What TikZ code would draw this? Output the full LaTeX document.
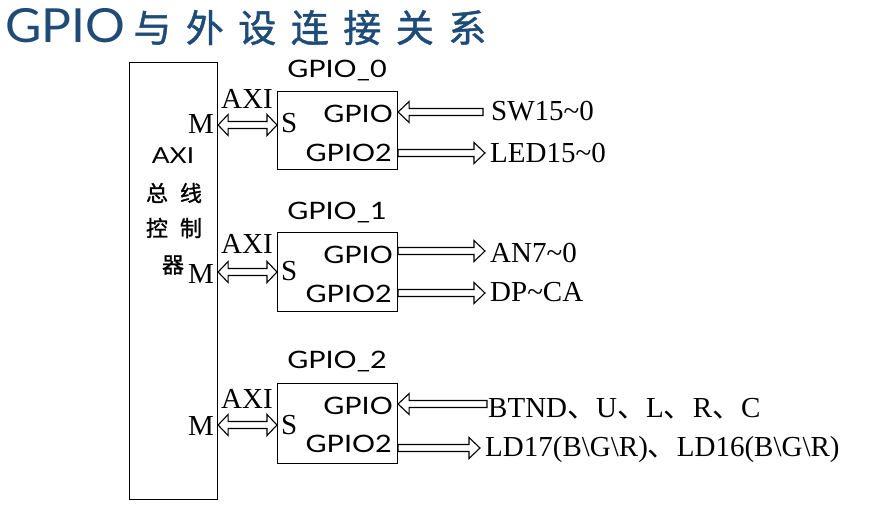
\documentclass[tikz,border=0pt]{standalone}
\usepackage{fontspec}
\setmainfont{Liberation Serif}
\newfontfamily\sansf[FakeStretch=1.2]{Lato}
\newfontfamily\sanst[FakeStretch=1.06]{Lato}
\newfontfamily\cjk{Noto Sans CJK SC}
\newfontfamily\cjkm[FakeBold=1.2]{Noto Sans CJK SC}
\usetikzlibrary{calc}
\definecolor{titleblue}{RGB}{30,75,120}
\tikzset{
  box/.style={draw, line width=1.1pt, inner sep=0},
  fat/.style={draw, line width=1.1pt, fill=white, line join=miter},
  serifl/.style={font=\fontsize{29}{29}\selectfont, inner sep=0},
  sansl/.style={font=\sansf\fontsize{24}{24}\selectfont, inner sep=0},
  ctrltext/.style={font=\cjkm\fontsize{22}{22}\selectfont, inner sep=0},
}
\newcommand{\oneway}[2]{\path[fat] let \p1=(#1), \p2=(#2), \n1={sign(\x2-\x1)} in
  ({\x1},{\y1+3.5pt}) -- ({\x2-\n1*11pt},{\y1+3.5pt}) -- ({\x2-\n1*11pt},{\y1+10.5pt}) --
  ({\x2},{\y1}) -- ({\x2-\n1*11pt},{\y1-10.5pt}) -- ({\x2-\n1*11pt},{\y1-3.5pt}) --
  ({\x1},{\y1-3.5pt}) -- cycle;}
\newcommand{\twoway}[2]{\path[fat] let \p1=(#1), \p2=(#2) in
  ({\x1},{\y1}) -- ({\x1+10pt},{\y1+10.5pt}) -- ({\x1+10pt},{\y1+3.5pt}) --
  ({\x2-10pt},{\y1+3.5pt}) -- ({\x2-10pt},{\y1+10.5pt}) -- ({\x2},{\y1}) --
  ({\x2-10pt},{\y1-10.5pt}) -- ({\x2-10pt},{\y1-3.5pt}) -- ({\x1+10pt},{\y1-3.5pt}) --
  ({\x1+10pt},{\y1-10.5pt}) -- cycle;}
\begin{document}
\begin{tikzpicture}[x=1pt,y=-1pt]
\useasboundingbox[fill=white] (0,0) rectangle (879,504);
% title
\node[anchor=base west, inner sep=0, text=titleblue] (title) at (5,42)
  {{\sanst\fontsize{47}{47}\selectfont GPIO}\hspace{8pt}{\cjkm\fontsize{38}{38}\selectfont 与\hspace{14.5pt}外\hspace{14.5pt}设\hspace{14.5pt}连\hspace{14.5pt}接\hspace{14.5pt}关\hspace{14.5pt}系}};
% controller
\node[box, minimum width=88pt, minimum height=437pt, anchor=north west] (ctrl) at (129,62) {};
\node[font=\sansf\fontsize{22}{22}\selectfont, inner sep=0, anchor=base] (axiL) at (173,163) {AXI};
\node[ctrltext] (zx) at (174,193) {总\hspace{12pt}线};
\node[ctrltext] (kz) at (174,228) {控\hspace{12pt}制};
\node[ctrltext] (qi) at (173,265) {器};
% GPIO boxes
\node[box, minimum width=120pt, minimum height=78pt, anchor=north west] (g0) at (277,91) {};
\node[box, minimum width=120pt, minimum height=79pt, anchor=north west] (g1) at (277,232) {};
\node[box, minimum width=120pt, minimum height=80pt, anchor=north west] (g2) at (277,383) {};
\node[sansl, anchor=base] (g0t) at (337,77) {GPIO\_0};
\node[sansl, anchor=base] (g1t) at (337,219) {GPIO\_1};
\node[sansl, anchor=base] (g2t) at (337,368) {GPIO\_2};
\node[sansl, anchor=base east] (g0a) at (393,122) {GPIO};
\node[sansl, anchor=base east] (g0b) at (392,161) {GPIO2};
\node[sansl, anchor=base east] (g1a) at (393,263) {GPIO};
\node[sansl, anchor=base east] (g1b) at (392,302) {GPIO2};
\node[sansl, anchor=base east] (g2a) at (393,414) {GPIO};
\node[sansl, anchor=base east] (g2b) at (392,452) {GPIO2};
% M / S / AXI
\node[serifl, anchor=base east] (m0) at (214,133) {M};
\node[serifl, anchor=base east] (m1) at (214,283) {M};
\node[serifl, anchor=base east] (m2) at (214,435) {M};
\node[serifl, anchor=base west] (s0) at (281,132) {S};
\node[serifl, anchor=base west] (s1) at (281,280) {S};
\node[serifl, anchor=base west] (s2) at (281,434) {S};
\node[serifl, anchor=base] (a0) at (247,108) {AXI};
\node[serifl, anchor=base] (a1) at (247,253) {AXI};
\node[serifl, anchor=base] (a2) at (247,408) {AXI};
\coordinate (y0) at (0,125);
\coordinate (y1) at (0,272);
\coordinate (y2) at (0,425);
\twoway{ctrl.east |- y0}{g0.west |- y0}
\twoway{ctrl.east |- y1}{g1.west |- y1}
\twoway{ctrl.east |- y2}{g2.west |- y2}
% peripherals
\node[serifl, anchor=base west] (sw) at (491,120) {SW15\textasciitilde0};
\node[serifl, anchor=base west] (led) at (490,162) {LED15\textasciitilde0};
\node[serifl, anchor=base west] (an) at (490,262) {AN7\textasciitilde0};
\node[serifl, anchor=base west] (dp) at (490,301) {DP\textasciitilde CA};
\node[serifl, anchor=base west] (btn) at (488,417) {BTND{\cjk 、}U{\cjk 、}L{\cjk 、}R{\cjk 、}C};
\node[serifl, anchor=base west] (ld) at (485,456) {LD17(B\textbackslash G\textbackslash R){\cjk 、}LD16(B\textbackslash G\textbackslash R)};
\coordinate (swT) at (483,112);
\coordinate (ledT) at (485,153);
\coordinate (anT) at (485,251);
\coordinate (dpT) at (485,293);
\coordinate (btnT) at (487,404);
\coordinate (ldT) at (480,448);
\oneway{swT}{g0.east |- swT}
\oneway{g0.east |- ledT}{ledT}
\oneway{g1.east |- anT}{anT}
\oneway{g1.east |- dpT}{dpT}
\oneway{btnT}{g2.east |- btnT}
\oneway{g2.east |- ldT}{ldT}
\end{tikzpicture}
\end{document}
